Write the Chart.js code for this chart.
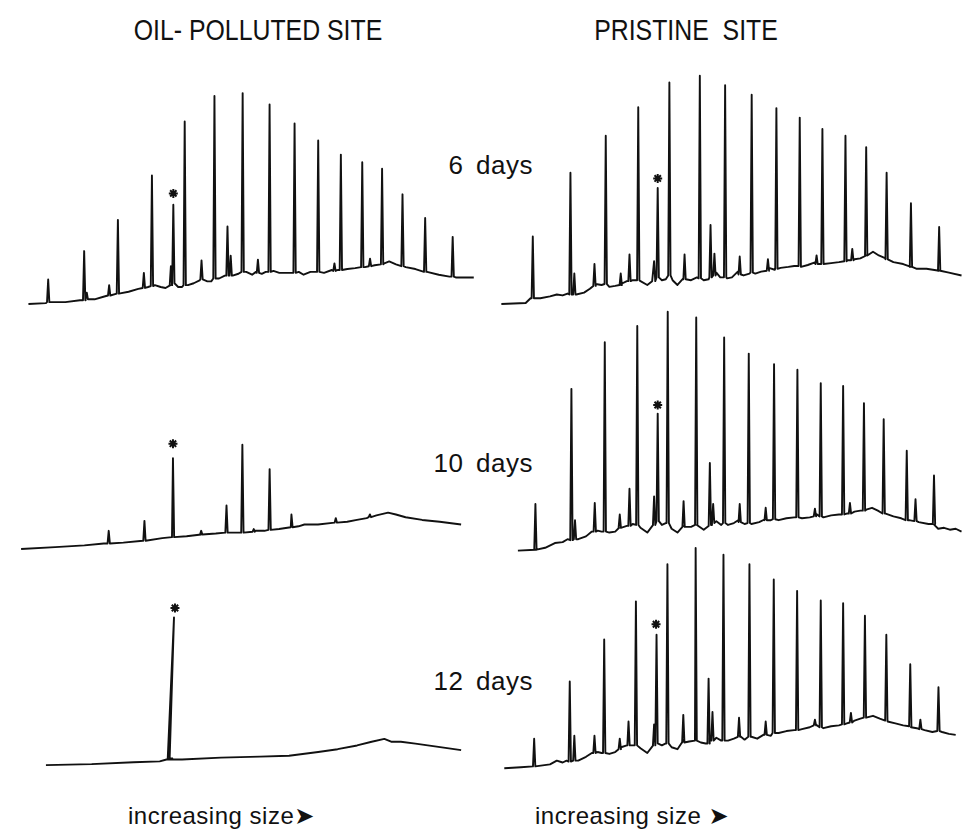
<!DOCTYPE html>
<html>
<head>
<meta charset="utf-8">
<script src="https://cdn.jsdelivr.net/npm/chart.js@4"></script>
<style>
  html, body { margin: 0; padding: 0; background: #fff; }
  body { width: 969px; height: 831px; position: relative; overflow: hidden;
         font-family: "Liberation Sans", Arial, sans-serif; color: #111; }
  .lbl { position: absolute; white-space: nowrap; line-height: 1; }
  .head { font-size: 27px; }
  .days { font-size: 26px; word-spacing: 5px; letter-spacing: 0.5px; text-align: right; }
  .foot { font-size: 24px; letter-spacing: 0.5px; }
  .arrow { font-family: "DejaVu Sans", sans-serif; font-size: 24px; }
</style>
</head>
<body>
<div class="lbl head" style="left:258px; top:17px; transform: translateX(-50%) scale(0.92, 1.1);">OIL- POLLUTED SITE</div>
<div class="lbl head" style="left:686px; top:17px; transform: translateX(-50%) scale(0.92, 1.1);">PRISTINE&nbsp; SITE</div>
<div class="lbl days" style="right:436px; top:152px;">6 days</div>
<div class="lbl days" style="right:436px; top:450px;">10 days</div>
<div class="lbl days" style="right:436px; top:668px;">12 days</div>
<div class="lbl foot" style="left:128px; top:804px;">increasing size<span class="arrow">➤</span></div>
<div class="lbl foot" style="left:535px; top:804px;">increasing size <span class="arrow">➤</span></div>

<script>
// ---- Oil-polluted site, 6 days ----
const oil6BaseX = [0.2,2.0,4.0,5.5,7.0,8.0,9.5,10.5,11.5,12.5,13.2,13.8,14.3,14.8,15.6,16.0,16.6,17.2,17.8,18.6,19.0,19.8,20.4,21.2,21.8,22.6,23.2,23.6,24.2,24.6,25.4,26.0,27.0,28.0,28.5,29.2,29.8,30.6,31.4,32.0,33.0,33.8,34.8,35.8,36.8,37.3,38.0,39.0,40.0,41.2,42.4,43.5,44.2,46.0];
const oil6BaseY = [1.0,1.1,1.2,1.4,1.5,1.8,2.1,2.3,2.6,2.8,3.0,2.8,2.7,3.0,2.8,2.8,3.0,3.2,3.5,3.4,3.4,3.7,4.0,4.0,4.2,4.4,4.1,4.4,4.2,4.4,4.5,4.3,4.3,4.4,4.1,4.4,4.4,4.3,4.6,4.6,4.7,4.8,4.9,5.1,5.3,5.5,5.2,4.9,4.7,4.4,4.1,3.9,3.8,3.8];
const oil6PeakX    = [2.23,5.93,6.2,8.5,9.4,12.07,12.9,14.85,15.1,16.27,18.0,19.33,20.67,21.0,22.23,23.8,25.0,27.57,30.0,31.67,32.33,34.53,35.33,36.57,38.67,41.0,43.83];
const oil6PeakTop  = [3.6,6.6,2.2,3.0,9.9,4.3,14.6,5.0,11.5,20.3,5.6,23.0,9.2,6.1,23.3,5.7,22.1,20.1,18.3,5.3,16.8,16.0,5.8,15.3,12.6,10.1,8.1];
const oil6PeakFoot = [1.2,1.4,1.5,1.9,2.1,2.7,2.9,3.0,3.2,3.0,3.6,3.7,4.0,4.0,4.4,4.3,4.4,4.3,4.4,4.5,4.6,4.9,5.0,5.2,5.0,4.4,3.9];
const oil6MarkX = [15.1], oil6MarkY = [12.7];

// ---- Oil-polluted site, 10 days ----
const oil10BaseX = [1.5,5.0,8.0,10.0,12.0,14.0,16.0,17.0,18.5,20.0,21.5,22.8,24.0,25.5,26.5,28.0,29.2,30.0,30.6,32.0,33.7,35.0,36.0,37.0,38.0,39.2,40.0,41.0,42.7,44.5,46.7];
const oil10BaseY = [0.5,0.7,0.9,1.1,1.2,1.4,1.7,1.8,1.9,2.1,2.2,2.3,2.3,2.5,2.5,2.7,2.9,3.0,3.2,3.2,3.4,3.5,3.7,3.9,4.2,4.5,4.3,4.0,3.7,3.5,3.2];
const oil10PeakX    = [10.5,14.17,17.1,20.0,22.6,24.23,25.4,27.03,29.27,33.83,37.33];
const oil10PeakTop  = [2.5,3.6,10.5,2.5,5.3,12.0,2.7,9.3,4.3,3.9,4.3];
const oil10PeakFoot = [1.1,1.4,1.8,2.1,2.3,2.3,2.4,2.6,2.9,3.4,4.0];
const oil10MarkX = [17.1], oil10MarkY = [12.1];

// ---- Oil-polluted site, 12 days ----
const oil12BaseX = [2.0,6.7,11.0,13.7,14.4,15.0,16.0,20.0,24.0,27.0,30.0,32.0,34.0,35.5,36.8,37.5,38.5,40.0,42.0,44.7];
const oil12BaseY = [0.9,1.0,1.2,1.3,1.5,1.6,1.5,1.7,1.8,1.9,2.3,2.6,3.0,3.4,3.7,3.4,3.4,3.2,2.9,2.5];
const oil12PeakX    = [15.17];
const oil12PeakTop  = [16.7];
const oil12PeakFoot = [1.5];
const oil12MarkX = [15.27], oil12MarkY = [17.7];

// ---- Pristine site, 6 days ----
const pri6BaseX = [0.5,3.0,3.5,4.5,5.5,6.2,6.8,7.3,8.2,9.0,9.6,10.2,10.8,11.6,12.2,12.8,13.4,14.0,14.8,15.5,16.0,17.0,17.4,18.1,18.6,19.2,20.0,20.6,21.3,21.8,22.6,23.0,23.7,24.2,24.8,25.4,26.0,26.6,27.2,28.0,28.6,29.2,30.0,30.6,31.3,32.0,32.8,33.6,34.4,35.2,36.0,36.8,37.4,38.0,38.7,39.3,40.0,40.8,41.8,42.6,43.2,44.2,45.5,46.5,47.8];
const pri6BaseY = [1.0,1.1,1.6,1.6,1.8,2.0,1.9,2.1,2.0,2.2,2.6,3.1,3.0,2.8,2.9,3.1,3.4,3.5,3.4,3.0,3.4,3.5,3.6,3.5,3.0,3.7,3.5,3.8,3.5,3.6,4.3,3.8,3.7,3.8,4.4,4.0,4.2,4.2,4.4,4.8,4.6,4.8,4.9,5.0,4.9,5.1,5.4,5.2,5.3,5.4,5.6,5.7,5.8,6.1,6.5,6.1,5.8,5.4,5.2,4.9,4.7,4.7,4.5,4.3,4.0];
const pri6PeakX    = [3.73,7.6,8.0,10.07,11.23,12.77,13.67,14.57,16.2,16.57,17.77,19.33,20.9,22.0,22.4,23.5,25.0,26.23,27.9,28.77,31.17,32.9,33.5,35.87,36.57,38.0,40.1,42.6,45.5];
const pri6PeakTop  = [8.1,14.8,4.2,5.2,18.7,4.2,6.2,21.7,5.5,13.2,24.3,6.2,25.0,9.3,6.3,24.0,6.0,23.0,5.7,21.6,20.6,6.1,19.4,18.7,6.8,17.5,14.8,11.6,9.1];
const pri6PeakFoot = [1.6,2.0,2.0,2.9,3.1,3.0,3.4,3.5,3.4,3.8,4.0,3.6,3.7,3.8,4.0,3.8,4.1,4.3,4.5,4.7,5.0,5.2,5.2,5.5,5.6,6.1,5.7,4.9,4.5];
const pri6MarkX = [16.57], pri6MarkY = [14.2];

// ---- Pristine site, 10 days ----
const pri10BaseX = [2.2,4.0,5.0,6.0,6.8,7.3,8.4,9.2,9.8,10.4,10.8,11.6,12.2,12.6,13.4,14.0,14.8,15.5,16.1,17.0,17.4,18.0,18.6,19.2,20.0,20.6,21.3,21.8,22.6,23.1,23.8,24.4,25.0,25.5,26.2,27.0,27.6,28.2,29.0,29.8,30.6,31.4,32.2,32.8,33.6,34.4,35.2,36.0,36.8,37.4,38.0,38.6,39.2,40.0,40.8,41.6,42.4,43.4,44.4,45.0,45.4,46.0,46.6,47.2,47.8];
const pri10BaseY = [0.3,0.4,0.6,1.1,1.2,1.5,1.5,1.8,2.3,2.4,2.3,2.2,2.3,2.7,2.9,3.1,2.7,2.2,3.0,3.0,3.2,2.6,2.2,2.9,2.8,3.0,2.5,2.9,3.4,3.0,3.0,3.2,3.6,3.1,3.1,3.3,3.6,3.5,3.5,3.7,3.8,3.7,3.8,4.2,3.8,4.0,4.1,4.2,4.4,4.5,4.6,4.8,4.5,4.2,3.9,3.7,3.5,3.3,3.1,3.0,2.6,2.7,2.5,2.6,2.3];
const pri10PeakX    = [4.0,7.7,8.07,10.1,11.13,12.67,13.67,14.47,16.2,16.57,17.6,19.23,20.53,21.93,22.27,23.4,25.0,25.93,27.67,28.53,30.93,32.73,33.33,35.63,36.33,37.77,39.8,42.17,43.07,44.97];
const pri10PeakTop  = [5.2,17.3,3.5,5.3,22.2,4.1,6.8,23.9,6.0,14.7,25.4,5.5,24.8,9.5,5.2,22.7,5.2,21.0,4.8,19.9,19.3,4.7,17.9,17.6,5.3,15.8,14.1,10.8,5.7,8.2];
const pri10PeakFoot = [0.4,1.4,1.5,2.3,2.3,2.7,2.9,3.0,3.0,3.4,3.2,2.8,3.0,3.0,3.2,3.2,3.3,3.2,3.5,3.6,3.8,3.9,3.9,4.1,4.2,4.5,4.2,3.5,3.4,3.1];
const pri10MarkX = [16.57], pri10MarkY = [15.6];

// ---- Pristine site, 12 days ----
const pri12BaseX = [0.8,2.5,4.0,5.5,6.2,6.8,7.2,8.4,9.2,9.8,10.4,10.8,11.6,12.2,12.8,13.4,14.0,14.8,15.5,16.1,17.0,17.4,18.0,18.6,19.2,19.8,20.4,21.0,21.5,21.9,22.6,23.1,23.8,24.4,25.0,25.5,26.2,26.8,27.6,28.2,29.0,29.8,30.6,31.4,32.2,32.8,33.6,34.4,35.2,36.0,36.8,37.4,38.0,38.7,39.4,40.2,41.0,41.8,42.6,43.2,44.0,44.8,45.8,46.5,47.2];
const pri12BaseY = [1.6,1.7,1.8,2.0,2.4,2.2,2.4,2.4,2.8,3.2,3.3,3.2,3.1,3.3,3.8,4.0,4.0,3.7,3.2,4.0,4.0,4.2,3.8,3.6,4.5,4.4,4.5,4.3,4.2,4.8,4.8,4.5,4.5,4.7,5.0,4.6,4.9,4.7,5.2,5.0,5.3,5.5,5.6,5.7,5.9,6.2,5.8,6.0,6.1,6.3,6.6,6.8,6.9,7.1,6.8,6.5,6.3,6.1,5.9,5.8,5.6,5.4,5.4,5.2,5.1];
const pri12PeakX    = [3.87,7.53,8.0,10.07,11.07,12.67,13.57,14.33,16.2,16.45,17.57,19.2,20.47,21.8,22.2,23.33,24.93,26.0,27.67,28.5,30.9,32.73,33.33,35.63,36.43,37.87,40.07,42.53,43.57,45.43];
const pri12PeakTop  = [4.7,10.7,5.0,5.0,15.1,4.7,6.5,19.1,6.2,15.6,23.0,7.2,24.7,11.0,7.5,24.0,6.9,23.0,6.5,21.4,20.2,6.7,19.2,18.9,7.4,17.6,15.6,12.5,6.7,10.1];
const pri12PeakFoot = [1.8,2.3,2.4,3.2,3.2,3.6,4.0,4.0,4.0,4.2,4.2,4.3,4.5,4.2,4.5,4.5,4.9,4.9,5.1,5.3,5.6,6.1,5.9,6.2,6.4,6.9,6.6,6.0,5.7,5.5];
const pri12MarkX = [16.4], pri12MarkY = [16.7];

// Where each trace sits on the page (1 data unit = 10 px)
const panels = [
  { box: {left: 20,  top: 80,  w: 470, h: 240}, bx: oil6BaseX,  by: oil6BaseY,  px: oil6PeakX,  pt: oil6PeakTop,  pf: oil6PeakFoot,  mx: oil6MarkX,  my: oil6MarkY,  rise: 0.12, fall: 0.12 },
  { box: {left: 0,   top: 420, w: 490, h: 140}, bx: oil10BaseX, by: oil10BaseY, px: oil10PeakX, pt: oil10PeakTop, pf: oil10PeakFoot, mx: oil10MarkX, my: oil10MarkY, rise: 0.12, fall: 0.12 },
  { box: {left: 20,  top: 580, w: 470, h: 200}, bx: oil12BaseX, by: oil12BaseY, px: oil12PeakX, pt: oil12PeakTop, pf: oil12PeakFoot, mx: oil12MarkX, my: oil12MarkY, rise: 0.65, fall: -0.45 },
  { box: {left: 490, top: 55,  w: 479, h: 265}, bx: pri6BaseX,  by: pri6BaseY,  px: pri6PeakX,  pt: pri6PeakTop,  pf: pri6PeakFoot,  mx: pri6MarkX,  my: pri6MarkY,  rise: 0.12, fall: 0.12 },
  { box: {left: 490, top: 290, w: 479, h: 270}, bx: pri10BaseX, by: pri10BaseY, px: pri10PeakX, pt: pri10PeakTop, pf: pri10PeakFoot, mx: pri10MarkX, my: pri10MarkY, rise: 0.12, fall: 0.12 },
  { box: {left: 490, top: 510, w: 479, h: 280}, bx: pri12BaseX, by: pri12BaseY, px: pri12PeakX, pt: pri12PeakTop, pf: pri12PeakFoot, mx: pri12MarkX, my: pri12MarkY, rise: 0.12, fall: 0.12 }
];

// Merge the baseline and the peaks into one detector trace, in elution order
function buildTrace(p) {
  const events = [];
  p.bx.forEach((x, i) => events.push({ k: x, pts: [{ x: x, y: p.by[i] }] }));
  p.px.forEach((x, i) => events.push({ k: x, pts: [
    { x: x - p.rise, y: p.pf[i] },
    { x: x,          y: p.pt[i] },
    { x: x + p.fall, y: p.pf[i] }
  ] }));
  events.sort((a, b) => a.k - b.k);
  return events.flatMap(e => e.pts);
}

panels.forEach(p => {
  const cv = document.createElement('canvas');
  cv.width = p.box.w;
  cv.height = p.box.h;
  Object.assign(cv.style, { position: 'absolute', left: p.box.left + 'px', top: p.box.top + 'px' });
  document.body.appendChild(cv);
  new Chart(cv.getContext('2d'), {
    type: 'line',
    data: {
      datasets: [
        {
          data: buildTrace(p),
          borderColor: '#111',
          borderWidth: 1.9,
          borderJoinStyle: 'round',
          pointRadius: 0,
          tension: 0,
          fill: false,
          clip: false
        },
        {
          type: 'scatter',
          data: p.mx.map((x, i) => ({ x: x, y: p.my[i] })),
          pointStyle: 'star',
          pointRadius: 4.5,
          borderColor: '#111',
          borderWidth: 2,
          showLine: false,
          clip: false
        }
      ]
    },
    options: {
      responsive: false,
      animation: false,
      events: [],
      layout: { padding: 0 },
      plugins: { legend: { display: false }, tooltip: { enabled: false } },
      scales: {
        x: { type: 'linear', min: 0, max: p.box.w / 10, display: false },
        y: { type: 'linear', min: 0, max: p.box.h / 10, display: false }
      }
    }
  });
});
</script>
</body>
</html>
